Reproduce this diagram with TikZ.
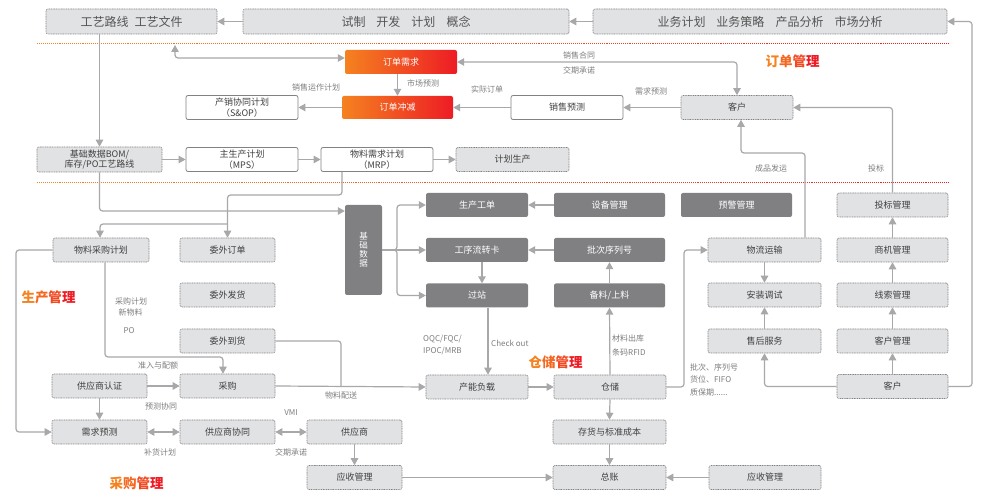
\documentclass[tikz,border=0pt]{standalone}
\usepackage{fontspec}
\setmainfont{Noto Sans CJK SC}
\usetikzlibrary{arrows.meta}
\definecolor{boxfill}{RGB}{225,226,228}
\definecolor{boxline}{RGB}{130,130,132}
\definecolor{darkbox}{RGB}{128,128,131}
\definecolor{conn}{RGB}{168,168,170}
\definecolor{txt}{RGB}{64,64,64}
\definecolor{lbl}{RGB}{125,125,125}
\definecolor{orgA}{RGB}{245,130,32}
\definecolor{redB}{RGB}{237,28,36}
\newcommand\fsz[1]{\fontsize{#1}{#1}\selectfont}
\begin{document}
\begin{tikzpicture}[x=1pt,y=-1pt,
  gbox/.style={draw=boxline, fill=boxfill, dash pattern=on 1pt off 0.7pt, line width=0.6pt, rounded corners=2pt, minimum height=24pt, inner sep=0pt, text=txt, font=\fsz{9}, align=center},
  tbox/.style={gbox, minimum height=25pt, font=\fsz{12}, text={rgb,255:red,85;green,85;blue,85}},
  wbox/.style={draw=boxline, fill=white, line width=0.8pt, rounded corners=2pt, minimum height=24pt, minimum width=112pt, inner sep=0pt, text=txt, font=\fontsize{9}{10.5}\selectfont, align=center},
  dbox/.style={fill=darkbox, rounded corners=2pt, minimum height=24pt, inner sep=0pt, text=white, font=\fsz{9}, align=center},
  obox/.style={left color=orgA, right color=redB, rounded corners=2pt, minimum height=24pt, inner sep=0pt, text=white, font=\fsz{9}},
  arr/.style={draw=conn, line width=1.2pt, -{Triangle[length=7pt,width=7.5pt]}, rounded corners=3pt},
  arr2/.style={draw=conn, line width=1.2pt, {Triangle[length=7pt,width=7.5pt]}-{Triangle[length=7pt,width=7.5pt]}, rounded corners=3pt},
  ln/.style={draw=conn, line width=1.2pt, rounded corners=3pt},
  lab/.style={text=lbl, font=\fsz{8}, inner sep=0pt},
  labl/.style={lab, anchor=west},
  sect/.style={font=\bfseries\fsz{13.5}, inner sep=0pt}
]
\useasboundingbox (0,0) rectangle (989,502);

% separator dotted lines
\foreach \i in {0,...,39} {
  \pgfmathtruncatemacro\p{100*\i/39}
  \draw[color=redB!\p!orgA, dash pattern=on 1pt off 1pt, line width=0.8pt] ({37+\i*22.8},43) -- ({37+(\i+1)*22.8},43);
  \draw[color=redB!\p!orgA, dash pattern=on 1pt off 1pt, line width=0.8pt] ({37+\i*22.8},182) -- ({37+(\i+1)*22.8},182);
}

% top row
\node[tbox, minimum width=171pt] (gy) at (131.5,21.5) {工艺路线\hspace{6pt}工艺文件};
\node[tbox, minimum width=326pt] (sz) at (406,21.5) {试制\hspace{11pt}开发\hspace{11pt}计划\hspace{11pt}概念};
\node[tbox, minimum width=354pt] (yw) at (770,21.5) {业务计划\hspace{11pt}业务策略\hspace{11pt}产品分析\hspace{11pt}市场分析};

% order management
\node[obox, minimum width=112pt] (ddxq) at (401,62) {订单需求};
\node[obox, minimum width=111pt, minimum height=23pt] (ddcj) at (397.5,107.5) {订单冲减};
\node[wbox] (sop) at (242,107.5) {产销协同计划\\（S\&OP）};
\node[wbox] (xsyc) at (567,107.5) {销售预测};
\node[gbox, minimum width=112pt] (kh1) at (737,107.5) {客户};

% planning row
\node[gbox, minimum width=125pt, minimum height=25pt, font=\fontsize{9}{10.5}\selectfont] (bom) at (99.5,159.5) {基础数据BOM/\\库存/PO工艺路线};
\node[wbox] (mps) at (242,159.5) {主生产计划\\（MPS）};
\node[wbox] (mrp) at (377,159.5) {物料需求计划\\（MRP）};
\node[gbox, minimum width=113pt] (jhsc) at (512.5,159.5) {计划生产};

% production core
\node[dbox, minimum width=37pt, minimum height=90pt, font=\fontsize{8.5}{9}\selectfont] (jcsj) at (363.5,250) {基\\础\\数\\据};
\node[dbox, minimum width=102pt] (scgd) at (477,205) {生产工单};
\node[dbox, minimum width=102pt] (gxlzk) at (477,250) {工序流转卡};
\node[dbox, minimum width=102pt] (gz) at (477,295.5) {过站};
\node[dbox, minimum width=111pt] (sbgl) at (609.5,205) {设备管理};
\node[dbox, minimum width=111pt] (pcxlh) at (609.5,250) {批次序列号};
\node[dbox, minimum width=111pt] (blsl) at (609.5,295.5) {备料/上料};
\node[dbox, minimum width=111pt] (yjgl) at (736.5,205) {预警管理};
\node[gbox, minimum width=102pt] (cnfz) at (477,387) {产能负载};
\node[gbox, minimum width=112pt] (cc) at (610,387) {仓储};

% right side
\node[gbox, minimum width=113pt] (wlys) at (764.5,250) {物流运输};
\node[gbox, minimum width=113pt] (azts) at (764.5,295) {安装调试};
\node[gbox, minimum width=113pt] (shfw) at (764.5,341) {售后服务};
\node[gbox, minimum width=111pt] (tbgl) at (892.5,205) {投标管理};
\node[gbox, minimum width=111pt] (sjgl) at (892.5,250) {商机管理};
\node[gbox, minimum width=111pt] (xsgl) at (892.5,295) {线索管理};
\node[gbox, minimum width=111pt] (khgl) at (892.5,341) {客户管理};
\node[gbox, minimum width=111pt] (kh2) at (892.5,386.5) {客户};

% left side
\node[gbox, minimum width=96pt] (wlcg) at (101,250) {物料采购计划};
\node[gbox, minimum width=95pt] (wwdd) at (227.5,250) {委外订单};
\node[gbox, minimum width=95pt] (wwfh) at (227.5,295) {委外发货};
\node[gbox, minimum width=95pt] (wwdh) at (227.5,341) {委外到货};
\node[gbox, minimum width=95pt] (gysrz) at (99.5,386) {供应商认证};
\node[gbox, minimum width=95pt] (cg) at (227.5,386) {采购};
\node[gbox, minimum width=95pt] (xqyc) at (99.5,432) {需求预测};
\node[gbox, minimum width=95pt] (gysxt) at (227.5,432) {供应商协同};
\node[gbox, minimum width=95pt] (gys) at (354.5,432) {供应商};
\node[gbox, minimum width=95pt] (ysgl1) at (354.5,477.5) {应收管理};
\node[gbox, minimum width=113pt] (chbz) at (609.5,432) {存货与标准成本};
\node[gbox, minimum width=113pt] (zz) at (609.5,477.5) {总账};
\node[gbox, minimum width=112pt] (ysgl2) at (765,477.5) {应收管理};

% section titles
\node[sect] (t1) at (792.5,61) {{\color{orgA}订}{\color{orgA!75!redB}单}{\color{orgA!45!redB}管}{\color{redB}理}};
\node[sect] (t2) at (555.5,362) {{\color{orgA}仓}{\color{orgA!75!redB}储}{\color{orgA!45!redB}管}{\color{redB}理}};
\node[sect] (t3) at (48.5,297) {{\color{orgA}生}{\color{orgA!75!redB}产}{\color{orgA!45!redB}管}{\color{redB}理}};
\node[sect] (t4) at (136.5,483) {{\color{orgA}采}{\color{orgA!75!redB}购}{\color{orgA!45!redB}管}{\color{redB}理}};

% connectors: top
\draw[arr] (sz.west) -- (gy.east);
\draw[arr] (yw.west) -- (sz.east);
\draw[arr] (kh2.east) -- (972,386.5) |- (yw.east);
\draw[arr] (gy.south -| bom.north) -- (bom.north);

% order
\coordinate (c1) at (175,45);
\draw[arr2] (c1) |- ([yshift=4pt]ddxq.west);
\draw[arr2] (ddxq.east) -| (kh1.north);
\draw[arr] (ddxq.south -| ddcj.north) -- (ddcj.north);
\draw[arr] (ddcj.west) -- (sop.east);
\draw[arr] (xsyc.west) -- (ddcj.east);
\draw[arr] (kh1.west) -- (xsyc.east);
\draw[arr] ([xshift=40.5pt]wlys.north) |- (741,153) -- ([xshift=4pt]kh1.south);
\draw[arr] (tbgl.north) |- (kh1.east);

% planning
\draw[arr] (bom.east) -- (mps.west);
\draw[arr] (mps.east) -- (mrp.west);
\draw[arr] (mrp.east) -- (jhsc.west);
\draw[arr] ([xshift=-35pt]mrp.south) -- (342,195) -| (wwdd.north);
\draw[arr] (227.5,224) -| ([xshift=-1pt]wlcg.north);
\draw[arr] (bom.south) |- ([yshift=39pt]jcsj.west);

% production core
\draw[arr] (jcsj.east) -- (gxlzk.west);
\draw[arr] (jcsj.east) -- (397,250) |- (scgd.west);
\draw[arr] (jcsj.east) -- (397,250) |- (gz.west);
\draw[arr] (sbgl.west) -- (scgd.east);
\draw[arr] (pcxlh.west) -- (gxlzk.east);
\draw[arr] ([xshift=5pt]gxlzk.south) -- ([xshift=5pt]gz.north);
\draw[arr] ([xshift=11pt]gz.south) -- ([xshift=11pt]cnfz.north);
\draw[arr] (blsl.north) -- (pcxlh.south);
\draw[arr] (cc.north) -- (blsl.south);
\draw[arr] (cnfz.east) -- (cc.west);
\draw[arr] (cc.east) -- (684,387) |- (wlys.west);
\draw[arr] (cc.south) -- (chbz.north);
\draw[arr] (chbz.south) -- (zz.north);
\draw[arr] (ysgl2.west) -- (zz.east);

% right side
\draw[arr] (wlys.south) -- (azts.north);
\draw[arr] (shfw.north) -- (azts.south);
\draw[arr] (kh2.west) -| (shfw.south);
\draw[arr] (kh2.north) -- (khgl.south);
\draw[arr] (khgl.north) -- (xsgl.south);
\draw[arr] (xsgl.north) -- (sjgl.south);
\draw[arr] (sjgl.north) -- (tbgl.south);

% left side
\draw[arr] (wlcg.west) -- (16,250) |- (xqyc.west);
\draw[arr] ([xshift=4pt]wlcg.south) -- (105,357) -| ([xshift=-4.5pt]cg.north);
\draw[ln] (wwdh.east) -| (341,386);
\draw[arr] (gysrz.east) -- (cg.west);
\draw[arr] (cg.east) -- (cnfz.west);
\draw[arr] (gysrz.south) -- (xqyc.north);
\draw[arr2] (xqyc.east) -- (gysxt.west);
\draw[arr2] (gysxt.east) -- (gys.west);
\draw[arr] (gys.south) -- (ysgl1.north);
\draw[arr] (ysgl1.east) -- (zz.west);

% labels
\node[lab] at (423,83) {市场预测};
\node[lab] at (316,87) {销售运作计划};
\node[lab] at (487,89) {实际订单};
\node[lab] at (579,55) {销售合同};
\node[lab] at (579,70) {交期承诺};
\node[lab] at (651,91) {需求预测};
\node[lab] at (771,168) {成品发运};
\node[lab] at (876,168) {投标};
\node[lab] at (131,301) {采购计划};
\node[lab] at (130.5,312) {新物料};
\node[lab] at (129,331) {PO};
\node[lab] at (158,365) {准入与配额};
\node[lab] at (341,395) {物料配送};
\node[lab] at (161,406) {预测协同};
\node[lab] at (160,452) {补货计划};
\node[lab] at (291,413) {VMI};
\node[lab] at (291,452) {交期承诺};
\node[labl] at (423,339) {OQC/FQC/};
\node[labl] at (423,351) {IPOC/MRB};
\node[labl] at (491,343) {Check out};
\node[labl] at (612,338) {材料出库};
\node[labl] at (612,352) {条码RFID};
\node[labl] at (690,367) {批次、序列号};
\node[labl] at (690,379.5) {货位、FIFO};
\node[labl] at (690,392) {质保期......};
\end{tikzpicture}
\end{document}
